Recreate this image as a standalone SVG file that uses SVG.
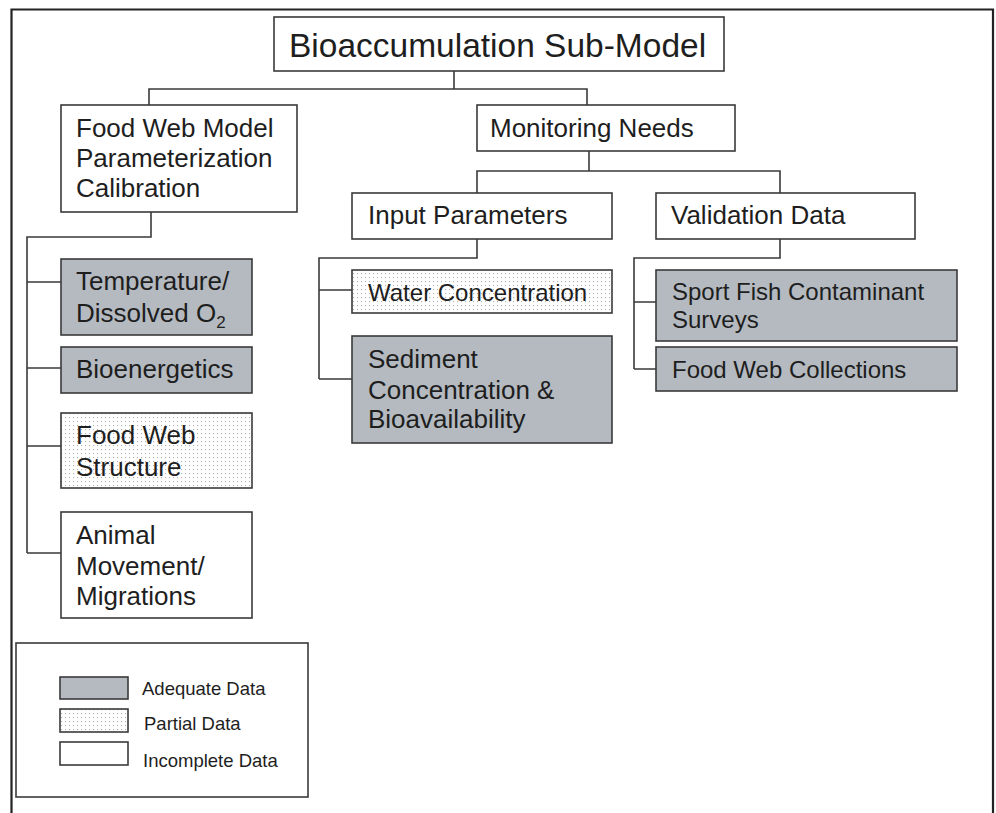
<svg xmlns="http://www.w3.org/2000/svg" width="996" height="813" viewBox="0 0 996 813">
  <defs>
    <pattern id="dots" width="4" height="4" patternUnits="userSpaceOnUse">
      <rect width="4" height="4" fill="#ffffff"/>
      <rect x="1" y="1" width="1.1" height="1.1" fill="#b0b0b0"/>
    </pattern>
  </defs>
  <style>
    text { font-family: "Liberation Sans", Arial, Helvetica, sans-serif; fill: #1e1e1e; font-size: 26px; }
    .box { stroke: #3a3a3a; stroke-width: 1.6; }
    .incomplete { fill: #ffffff; }
    .adequate { fill: #b4bac0; }
    .partial { fill: url(#dots); }
    .link { fill: none; stroke: #3a3a3a; stroke-width: 1.6; }
    .small { font-size: 24px; }
    .legend text { font-size: 18.5px; }
    .title { font-size: 33.5px; }
  </style>

  <rect width="996" height="813" fill="#ffffff"/>

  <!-- outer frame -->
  <path d="M11.5,813 V9.5 H993 V813" fill="none" stroke="#222222" stroke-width="2.2"/>

  <!-- connectors -->
  <g id="connectors" class="link">
    <path d="M454,71 V89 M149,105 V89 H587 V105"/>
    <path d="M151,212 V237 H27 V553 M27,282 H61 M27,368 H61 M27,446 H61 M27,553 H61"/>
    <path d="M589,151 V171 M477,193 V171 H780 V193"/>
    <path d="M477,239 V258 H319 V379 M319,290 H352 M319,379 H352"/>
    <path d="M780,239 V258 H634 V369 M634,302 H656 M634,369 H656"/>
  </g>

  <g id="title">
    <rect class="box incomplete" x="274" y="17" width="450" height="54"/>
    <text class="title" x="289" y="57">Bioaccumulation Sub-Model</text>
  </g>

  <g id="food-web-model">
    <rect class="box incomplete" x="61" y="105" width="236" height="107"/>
    <text x="76" y="137">Food Web Model</text>
    <text x="76" y="167">Parameterization</text>
    <text x="76" y="197">Calibration</text>
  </g>

  <g id="monitoring-needs">
    <rect class="box incomplete" x="477" y="105" width="258" height="46"/>
    <text x="490" y="137">Monitoring Needs</text>
  </g>

  <g id="input-parameters">
    <rect class="box incomplete" x="352" y="193" width="260" height="46"/>
    <text x="368" y="224">Input Parameters</text>
  </g>

  <g id="validation-data">
    <rect class="box incomplete" x="656" y="193" width="259" height="46"/>
    <text x="671" y="224">Validation Data</text>
  </g>

  <g id="temperature">
    <rect class="box adequate" x="61" y="259" width="191" height="76"/>
    <text x="76" y="290">Temperature/</text>
    <text x="76" y="322">Dissolved O<tspan font-size="17" dy="6">2</tspan></text>
  </g>

  <g id="bioenergetics">
    <rect class="box adequate" x="61" y="347" width="191" height="46"/>
    <text x="76" y="378">Bioenergetics</text>
  </g>

  <g id="food-web-structure">
    <rect class="box partial" x="61" y="413" width="191" height="75"/>
    <text x="76" y="444">Food Web</text>
    <text x="76" y="476">Structure</text>
  </g>

  <g id="animal-movement">
    <rect class="box incomplete" x="61" y="512" width="191" height="106"/>
    <text x="76" y="544">Animal</text>
    <text x="76" y="575">Movement/</text>
    <text x="76" y="605">Migrations</text>
  </g>

  <g id="water-concentration">
    <rect class="box partial" x="352" y="270" width="260" height="43"/>
    <text class="small" x="368" y="301">Water Concentration</text>
  </g>

  <g id="sediment-concentration">
    <rect class="box adequate" x="352" y="336" width="260" height="107"/>
    <text x="368" y="368">Sediment</text>
    <text x="368" y="399">Concentration &amp;</text>
    <text x="368" y="428">Bioavailability</text>
  </g>

  <g id="sport-fish">
    <rect class="box adequate" x="656" y="270" width="301" height="71"/>
    <text class="small" x="672" y="300">Sport Fish Contaminant</text>
    <text class="small" x="672" y="328">Surveys</text>
  </g>

  <g id="food-web-collections">
    <rect class="box adequate" x="656" y="347" width="301" height="44"/>
    <text class="small" x="672" y="378">Food Web Collections</text>
  </g>

  <!-- legend -->
  <g id="legend" class="legend">
    <rect class="box incomplete" x="16" y="643" width="292" height="154"/>
    <rect class="box adequate" x="60" y="677" width="68" height="22"/>
    <text x="142" y="695">Adequate Data</text>
    <rect class="box partial" x="60" y="709" width="68" height="23"/>
    <text x="144" y="730">Partial Data</text>
    <rect class="box incomplete" x="60" y="742" width="68" height="23"/>
    <text x="143" y="767">Incomplete Data</text>
  </g>
</svg>
